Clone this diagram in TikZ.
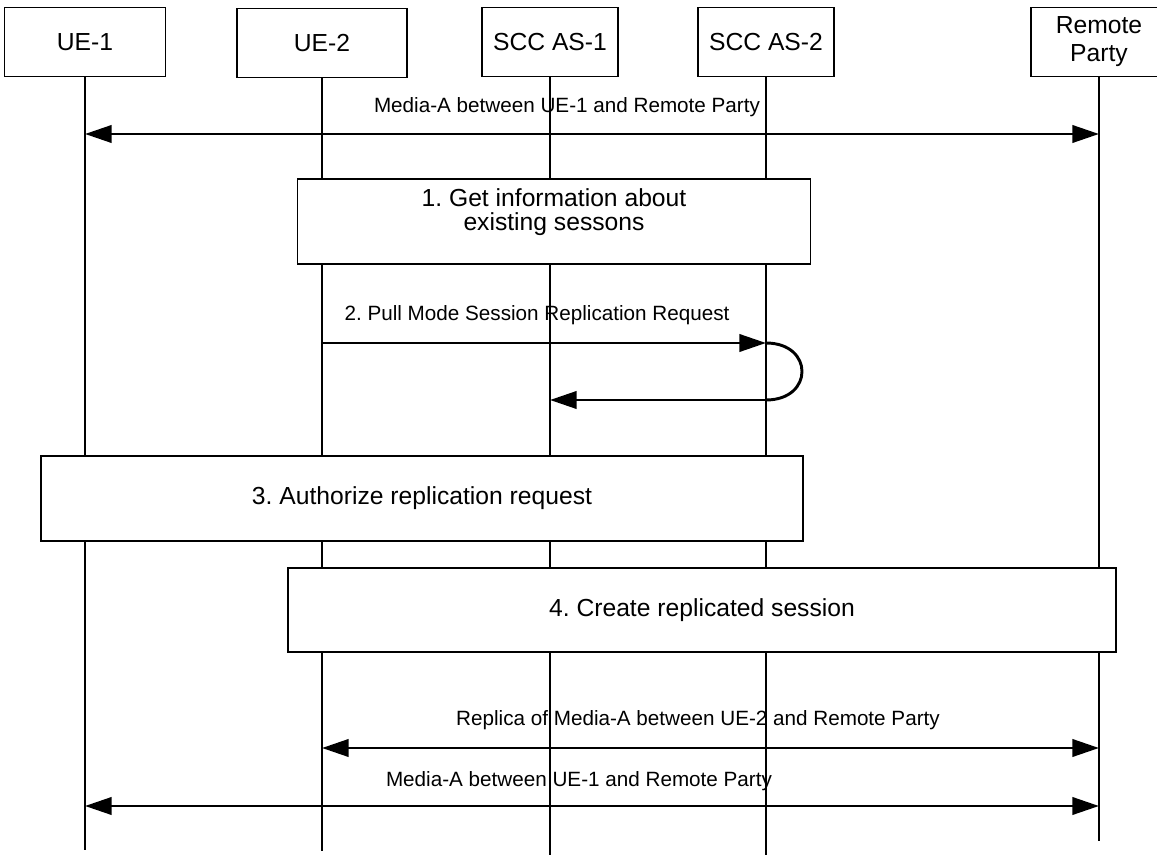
\documentclass[tikz,border=0pt]{standalone}
\usepackage{fontspec}
\setmainfont{Liberation Sans}
\usetikzlibrary{arrows.meta}
\frenchspacing

\begin{document}
\begin{tikzpicture}[
  x=0.75pt, y=-0.75pt,
  head/.style={draw, line width=0.8pt, minimum height=69*0.75pt, inner sep=0pt,
               font=\fontsize{18.5}{21}\selectfont, align=center},
  actbox/.style={draw, line width=0.8pt, inner sep=0pt,
                 font=\fontsize{18.5}{18}\selectfont, align=center},
  life/.style={line width=1.1pt},
  msg/.style={line width=2.2pt, -{Triangle[length=20pt,width=13pt]}},
  bimsg/.style={line width=2.2pt, {Triangle[length=20pt,width=13pt]}-{Triangle[length=20pt,width=13pt]}},
  lbl/.style={font=\fontsize{15.5}{16}\selectfont, inner sep=0pt}
]
\useasboundingbox (0,0) rectangle (1157,855);
\clip (0,0) rectangle (1157,855);

% entities
\node[head, minimum width=161*0.75pt] (ue1) at (85,42)  {UE-1};
\node[head, minimum width=170*0.75pt] (ue2) at (322,43) {UE-2};
\node[head, minimum width=136*0.75pt] (as1) at (550,42) {SCC AS-1};
\node[head, minimum width=136*0.75pt] (as2) at (766,42) {SCC AS-2};
\node[head, minimum width=136*0.75pt] (rp)  at (1099,42) {Remote\\Party};

% lifelines
\coordinate (e1) at (0,850);
\coordinate (e2) at (0,851);
\coordinate (e3) at (0,855);
\coordinate (e4) at (0,841);
\draw[life] (ue1) -- (ue1 |- e1);
\draw[life] (ue2) -- (ue2 |- e2);
\draw[life] (as1) -- (as1 |- e3);
\draw[life] (as2) -- (as2 |- e3);
\draw[life] (rp)  -- (rp |- e4);

% message rows
\coordinate (m1) at (0,134);
\coordinate (m2) at (0,343);
\coordinate (m3) at (0,400);
\coordinate (m4) at (0,748);
\coordinate (m5) at (0,806);

\draw[bimsg] (ue1 |- m1) -- (rp |- m1);
\node[lbl] (l1) at (567,107) {Media-A between UE-1 and Remote Party};

\node[actbox, fill=white, minimum width=513*0.75pt, minimum height=85*0.75pt] (act1) at (554,221.5) {};
\node[actbox, draw=none] at ([yshift=7pt]act1.center) {1. Get information about\\existing sessons};

\draw[msg] (ue2 |- m2) -- (as2 |- m2);
\node[lbl] (l2) at (537,315) {2. Pull Mode Session Replication Request};
\draw[line width=2.2pt] (as2 |- m2) .. controls +(48,0) and +(48,0) .. (as2 |- m3);
\draw[msg] (as2 |- m3) -- (as1 |- m3);

\node[actbox, fill=white, minimum width=762*0.75pt, minimum height=85*0.75pt] (act3) at (422,498.5) {3. Authorize replication request};
\node[actbox, fill=white, minimum width=828*0.75pt, minimum height=84*0.75pt] (act4) at (702,610) {4. Create replicated session};

\draw[bimsg] (ue2 |- m4) -- (rp |- m4);
\node[lbl] (l4) at (698,720) {Replica of Media-A between UE-2 and Remote Party};

\draw[bimsg] (ue1 |- m5) -- (rp |- m5);
\node[lbl] (l5) at (579,781) {Media-A between UE-1 and Remote Party};
\end{tikzpicture}
\end{document}
